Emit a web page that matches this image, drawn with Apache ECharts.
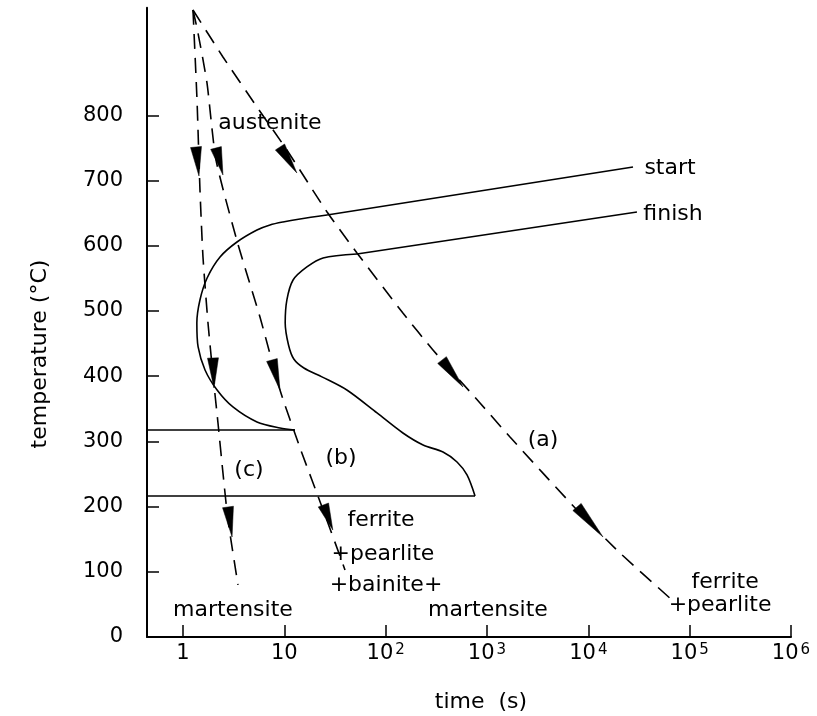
<!DOCTYPE html>
<html><head><meta charset="utf-8">
<script src="https://cdn.jsdelivr.net/npm/echarts@6/dist/echarts.min.js"></script>
<style>html,body{margin:0;padding:0;background:#fff}#c{width:817px;height:716px}</style>
</head><body><div id="c"></div>
<script>
// ---- axis ranges and ticks ----
const T_MIN = 0.4414, T_MAX = 1e6, TEMP_MAX = 965;
const xTickValues = [1, 10, 100, 1000, 10000, 100000, 1000000];
const yTickValues = [0, 100, 200, 300, 400, 500, 600, 700, 800];

// ---- transformation curves [time (s), temperature (°C)] ----
// curved "nose" parts
const startNose = [[12.7,317.5],[9.06,320.6],[5.37,329.8],[3.11,352.8],[2.17,378.8],[1.65,409.5],[1.41,444.8],[1.37,481.6],[1.47,516.9],[1.73,550.6],[2.32,582.8],[3.41,605.8],[5.37,624.2],[7.22,631.9],[9.7,636.5],[14.28,641.1],[26.4,647.2]];
const finishNose = [[762,216.3],[635,248.5],[506,268.4],[368,283.7],[234,294.5],[148,312.9],[82.2,343.6],[41.4,378.8],[23.5,399.0],[15.6,412.6],[12.4,426.4],[11.0,447.9],[10.2,481.6],[10.6,516.9],[12.2,547.5],[16.7,567.5],[24.1,581.3],[52.1,587.4]];
// straight upper branches
const startUpper = [[26.4,647.2],[27600,720.9]];
const finishUpper = [[52.1,587.4],[30200,651.8]];
const upperLimit = [[T_MIN,317.5],[12.7,317.5]];
const lowerLimit = [[T_MIN,216.3],[762,216.3]];

// ---- cooling paths ----
const coolingA = [[1.255,961.7],[2.48,889.6],[5.37,812.9],[10.6,746.9],[26.4,651.8],[52.1,589],[148,496.9],[293,440.2],[853,358.9],[1687,306.7],[7730,194.8],[20550,128.8],[67000,56.7]];
const coolingB = [[1.255,961.7],[1.406,926.4],[1.725,849.7],[2.118,731.6],[3.46,604.3],[5.75,490.8],[9.06,378.8],[14.3,289.9],[25.2,187.1],[39.7,102.8]];
const coolingC = [[1.255,961.7],[1.375,823.6],[1.471,685.6],[1.575,582.8],[1.765,481.6],[1.977,401.8],[2.215,328.2],[2.48,251.5],[2.78,179.4],[3.49,79.8]];

// ---- arrow heads: [tail time, tail temp, tip time, tip temp] ----
const arrows = [
  [1.344,751.5,1.438,707.1],[1.977,427.9,2.023,381.9],[2.78,199.4,3.05,153.4],
  [2.118,750,2.48,708.6],[7.55,424.8,9.06,378.8],[24.3,202.5,30.1,164.1],
  [9.06,751.5,13.3,711.7],[360,424.8,580,383.4],[7730,199.4,13960,153.4]
];

// ---- annotations ----
const annoText = ['austenite','start','finish','(a)','(b)','(c)','ferrite','+pearlite','+bainite+','martensite','martensite','ferrite','+pearlite'];
const annoTime = [7.22,63970,68500,3570,36.3,4.48,90,94.1,100.8,3.11,1023,223400,199500];
const annoTemp = [788.3,719.3,648.8,302.1,274.5,256.1,179.4,127.3,79.8,41.4,41.4,84.4,49.1];

const FONT = 'DejaVu Sans';
const chart = echarts.init(document.getElementById('c'));

function curve(name, data, dashed, smooth) {
  return {
    type: 'line', name: name, data: data, symbol: 'none', smooth: smooth,
    silent: true, z: 3,
    lineStyle: { color: '#000', width: 1.6, type: dashed ? [15, 9] : 'solid' }
  };
}

const option = {
  animation: false,
  backgroundColor: '#fff',
  grid: { left: 147, right: 26, top: 7.8, bottom: 79 },
  xAxis: {
    type: 'log', logBase: 10, min: T_MIN, max: T_MAX,
    axisLine: { show: true, onZero: false, lineStyle: { color: '#000', width: 2 } },
    axisTick: { show: true, inside: true, length: 12, customValues: xTickValues, lineStyle: { color: '#000', width: 1.5 } },
    minorTick: { show: false },
    splitLine: { show: false },
    axisLabel: {
      customValues: xTickValues, margin: 6, color: '#000', fontFamily: FONT, fontSize: 21,
      formatter: function (v) {
        const e = Math.round(Math.log10(v));
        if (e === 0) return '1';
        if (e === 1) return '10';
        return '10{s|' + e + '}';
      },
      rich: { s: { fontSize: 15, fontFamily: FONT, color: '#000', verticalAlign: 'top', padding: [0, 0, 0, 2] } }
    }
  },
  yAxis: {
    type: 'value', min: 0, max: TEMP_MAX,
    axisLine: { show: true, onZero: false, lineStyle: { color: '#000', width: 2 } },
    axisTick: { show: true, inside: true, length: 12, customValues: yTickValues, lineStyle: { color: '#000', width: 1.5 } },
    splitLine: { show: false },
    axisLabel: { customValues: yTickValues, margin: 24, color: '#000', fontFamily: FONT, fontSize: 21 }
  },
  graphic: [
    { type: 'text', x: 40, y: 354, rotation: Math.PI / 2,
      style: { text: 'temperature (°C)', fontSize: 22, fontFamily: FONT, fill: '#000', align: 'center', verticalAlign: 'middle' } },
    { type: 'text', x: 481, y: 702,
      style: { text: 'time  (s)', fontSize: 22, fontFamily: FONT, fill: '#000', align: 'center', verticalAlign: 'middle' } }
  ],
  series: [
    curve('start', startNose, false, 0.3),
    curve('startUpper', startUpper, false, false),
    curve('finish', finishNose, false, 0.3),
    curve('finishUpper', finishUpper, false, false),
    curve('Ms1', upperLimit, false, false),
    curve('Ms2', lowerLimit, false, false),
    curve('a', coolingA, true, 0.2),
    curve('b', coolingB, true, 0.2),
    curve('c', coolingC, true, 0.2),
    {
      type: 'custom', name: 'arrows', z: 4, silent: true,
      data: arrows,
      encode: { x: [0, 2], y: [1, 3] },
      renderItem: function (params, api) {
        const p1 = api.coord([api.value(0), api.value(1)]);
        const p2 = api.coord([api.value(2), api.value(3)]);
        const dx = p2[0] - p1[0], dy = p2[1] - p1[1];
        const len = Math.sqrt(dx * dx + dy * dy) || 1;
        const nx = -dy / len * 5.5, ny = dx / len * 5.5;
        return {
          type: 'polygon',
          shape: { points: [[p2[0], p2[1]], [p1[0] + nx, p1[1] + ny], [p1[0] - nx, p1[1] - ny]] },
          style: { fill: '#000', stroke: '#000', lineWidth: 0.5 }
        };
      }
    },
    {
      type: 'scatter', name: 'labels', symbolSize: 0, silent: true, z: 5,
      itemStyle: { opacity: 1 },
      data: annoText.map(function (t, i) { return { name: t, value: [annoTime[i], annoTemp[i]] }; }),
      label: {
        show: true, position: 'inside', color: '#000', opacity: 1, fontFamily: FONT, fontSize: 22,
        align: 'center', verticalAlign: 'middle',
        formatter: function (p) { return p.name; }
      }
    }
  ]
};
chart.setOption(option);
</script>
</body></html>
